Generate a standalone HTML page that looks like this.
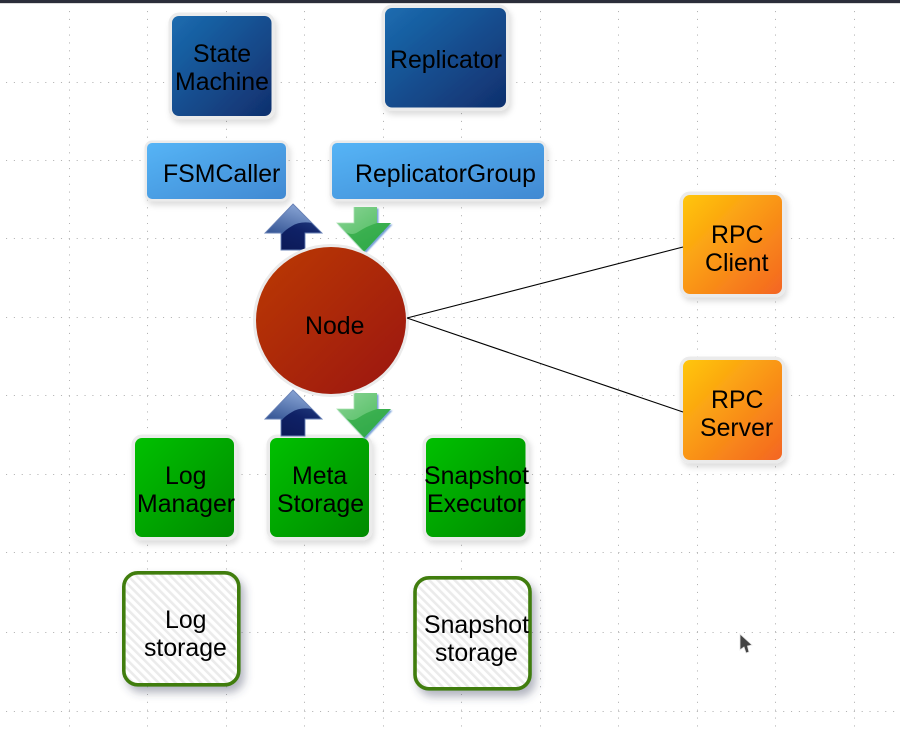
<!DOCTYPE html>
<html>
<head>
<meta charset="utf-8">
<style>
html,body{margin:0;padding:0;background:#fff;width:900px;height:731px;overflow:hidden}
svg{display:block}
text{font-family:"Liberation Sans",sans-serif;font-size:24.85px;fill:#000}
.g line{stroke:#b4b4b4;stroke-width:1;stroke-dasharray:1.1 6.75}
</style>
</head>
<body>
<svg width="900" height="731" viewBox="0 0 900 731" xmlns="http://www.w3.org/2000/svg">
<defs>
<linearGradient id="db" x1="0" y1="0" x2="1" y2="1"><stop offset="0" stop-color="#1b6cb0"/><stop offset="1" stop-color="#102f6d"/></linearGradient>
<linearGradient id="lb" x1="0" y1="0" x2="1" y2="1"><stop offset="0" stop-color="#55b4f6"/><stop offset="1" stop-color="#4189d2"/></linearGradient>
<linearGradient id="or" x1="0" y1="0" x2="1" y2="1"><stop offset="0" stop-color="#ffc60a"/><stop offset="1" stop-color="#f46522"/></linearGradient>
<linearGradient id="gr" x1="0" y1="0" x2="1" y2="1"><stop offset="0" stop-color="#00c000"/><stop offset="1" stop-color="#008a00"/></linearGradient>
<linearGradient id="re" x1="0" y1="0" x2="1" y2="1"><stop offset="0" stop-color="#bb3a02"/><stop offset="1" stop-color="#9b1511"/></linearGradient>
<linearGradient id="ul" x1="0.7" y1="0" x2="0.2" y2="1"><stop offset="0" stop-color="#8aa6d6"/><stop offset="1" stop-color="#375796"/></linearGradient>
<linearGradient id="ub" x1="0.8" y1="0" x2="0.3" y2="1"><stop offset="0" stop-color="#2d4d8e"/><stop offset="0.55" stop-color="#0f2166"/><stop offset="1" stop-color="#0c1a58"/></linearGradient>
<linearGradient id="dl" x1="0" y1="0" x2="1" y2="1"><stop offset="0" stop-color="#8ad495"/><stop offset="1" stop-color="#58c068"/></linearGradient>
<linearGradient id="db2" x1="0.2" y1="0" x2="0.8" y2="1"><stop offset="0" stop-color="#46b858"/><stop offset="1" stop-color="#2fa848"/></linearGradient>
<pattern id="st" width="6" height="6" patternUnits="userSpaceOnUse" patternTransform="rotate(-45)"><rect width="6" height="6" fill="#fff"/><rect width="2.600" height="6" fill="#ebebeb"/></pattern>
<filter id="sh" x="-20%" y="-20%" width="150%" height="150%"><feDropShadow dx="2" dy="4" stdDeviation="3" flood-color="#000" flood-opacity="0.13"/></filter>
<filter id="sh2" x="-20%" y="-20%" width="150%" height="150%"><feDropShadow dx="4" dy="6" stdDeviation="4.500" flood-color="#3f4560" flood-opacity="0.4"/></filter>
<filter id="sh3" x="-20%" y="-20%" width="150%" height="150%"><feDropShadow dx="1.500" dy="1.500" stdDeviation="0.7" flood-color="#3f7ac8" flood-opacity="0.7"/></filter>
<path id="up" d="M293 204 L322 233 L305 233 L305 250 L281 250 L281 233 L265 233 Z"/>
<path id="dn" d="M354 207 L377 207 L377 223 L391 223 L364 252 L337 223 L354 223 Z"/>
<clipPath id="cu"><use href="#up"/></clipPath>
<clipPath id="cd"><use href="#dn"/></clipPath>
<g id="uparrow">
<use href="#up" fill="url(#ub)"/>
<path d="M293 204 L312 223 Q300 221 292 226 Q285 230 282 234 L265 233 Z" fill="url(#ul)" clip-path="url(#cu)"/>
<use href="#up" fill="none" stroke="#6780b5" stroke-width="0.9"/>
</g>
<g id="dnarrow">
<g filter="url(#sh3)"><use href="#dn" fill="url(#db2)"/></g>
<path d="M354 207 L377 207 L377 223 Q367 226 358 232 Q352 236 346 232 L337 223 L354 223 Z" fill="url(#dl)" clip-path="url(#cd)"/>
<path d="M354 207 L354 223 L337 223 L364 252" fill="none" stroke="#a6e0ae" stroke-width="0.8"/>
</g>
</defs>
<rect width="900" height="731" fill="#fff"/>
<rect width="900" height="3" fill="#2b2e3a"/>
<rect y="3" width="900" height="1" fill="#dcdcdc"/>

<g class="g">
<line x1="0" y1="82.5" x2="900" y2="82.5" stroke-dashoffset="-6"/>
<line x1="0" y1="160.5" x2="900" y2="160.5" stroke-dashoffset="-6"/>
<line x1="0" y1="238.5" x2="900" y2="238.5" stroke-dashoffset="-6"/>
<line x1="0" y1="317.5" x2="900" y2="317.5" stroke-dashoffset="-6"/>
<line x1="0" y1="395.5" x2="900" y2="395.5" stroke-dashoffset="-6"/>
<line x1="0" y1="474.5" x2="900" y2="474.5" stroke-dashoffset="-6"/>
<line x1="0" y1="552.5" x2="900" y2="552.5" stroke-dashoffset="-6"/>
<line x1="0" y1="632.5" x2="900" y2="632.5" stroke-dashoffset="-6"/>
<line x1="0" y1="711.5" x2="900" y2="711.5" stroke-dashoffset="-6"/>
<line x1="69.5" y1="11" x2="69.5" y2="731"/>
<line x1="147.5" y1="11" x2="147.5" y2="731"/>
<line x1="226.5" y1="11" x2="226.5" y2="731"/>
<line x1="304.5" y1="11" x2="304.5" y2="731"/>
<line x1="383.5" y1="11" x2="383.5" y2="731"/>
<line x1="461.5" y1="11" x2="461.5" y2="731"/>
<line x1="540.5" y1="11" x2="540.5" y2="731"/>
<line x1="618.5" y1="11" x2="618.5" y2="731"/>
<line x1="697.5" y1="11" x2="697.5" y2="731"/>
<line x1="775.5" y1="11" x2="775.5" y2="731"/>
<line x1="854.5" y1="11" x2="854.5" y2="731"/>
</g>

<!-- dark blue -->
<rect x="172" y="16" width="99.500" height="100" rx="7" fill="url(#db)" stroke="#ebebeb" stroke-width="7" paint-order="stroke" filter="url(#sh)"/>
<rect x="385" y="8" width="121" height="99.500" rx="7" fill="url(#db)" stroke="#ebebeb" stroke-width="7" paint-order="stroke" filter="url(#sh)"/>
<!-- light blue -->
<rect x="147" y="143" width="139" height="56" rx="5" fill="url(#lb)" stroke="#ebebeb" stroke-width="5" paint-order="stroke" filter="url(#sh)"/>
<rect x="332" y="143" width="212" height="56" rx="5" fill="url(#lb)" stroke="#ebebeb" stroke-width="5" paint-order="stroke" filter="url(#sh)"/>
<!-- orange -->
<rect x="683" y="195" width="99" height="99" rx="7" fill="url(#or)" stroke="#ebebeb" stroke-width="7" paint-order="stroke" filter="url(#sh)"/>
<rect x="683" y="360" width="99" height="100" rx="7" fill="url(#or)" stroke="#ebebeb" stroke-width="7" paint-order="stroke" filter="url(#sh)"/>
<!-- green -->
<rect x="135" y="438" width="99" height="99" rx="7" fill="url(#gr)" stroke="#ebebeb" stroke-width="7" paint-order="stroke" filter="url(#sh)"/>
<rect x="270" y="438" width="99" height="99" rx="7" fill="url(#gr)" stroke="#ebebeb" stroke-width="7" paint-order="stroke" filter="url(#sh)"/>
<rect x="426" y="438" width="99.500" height="99" rx="7" fill="url(#gr)" stroke="#ebebeb" stroke-width="7" paint-order="stroke" filter="url(#sh)"/>
<!-- storage -->
<rect x="123.800" y="572.800" width="115" height="112" rx="14" fill="url(#st)" stroke="#3f7d0a" stroke-width="3.600" filter="url(#sh2)"/>
<rect x="415" y="577.800" width="115" height="111" rx="14" fill="url(#st)" stroke="#3f7d0a" stroke-width="3.600" filter="url(#sh2)"/>

<!-- arrows -->
<use href="#uparrow"/>
<use href="#uparrow" y="186"/>
<use href="#dnarrow"/>
<use href="#dnarrow" y="186"/>

<!-- node -->
<ellipse cx="331" cy="320.500" rx="75" ry="73.500" fill="url(#re)" stroke="#ebebeb" stroke-width="6" paint-order="stroke"/>

<!-- connectors -->
<line x1="407" y1="318" x2="683" y2="247" stroke="#000" stroke-width="1.100"/>
<line x1="407" y1="318" x2="683" y2="412" stroke="#000" stroke-width="1.100"/>

<!-- cursor -->
<path d="M740 634 L740 650 L744 647 L746 653 L749 652 L747.500 646 L752 645 Z" fill="#444" stroke="#e4e4e4" stroke-width="0.8"/>

<!-- labels -->
<text x="193" y="62">State</text>
<text x="175" y="90">Machine</text>
<text x="390" y="68">Replicator</text>
<text x="163" y="182">FSMCaller</text>
<text x="355" y="182">ReplicatorGroup</text>
<text x="711" y="243">RPC</text>
<text x="705" y="271">Client</text>
<text x="711" y="408">RPC</text>
<text x="700" y="436">Server</text>
<text x="305" y="334">Node</text>
<text x="165" y="484">Log</text>
<text x="137" y="512">Manager</text>
<text x="292" y="484">Meta</text>
<text x="277" y="512">Storage</text>
<text x="424" y="484">Snapshot</text>
<text x="427" y="512">Executor</text>
<text x="165" y="628">Log</text>
<text x="144" y="656">storage</text>
<text x="424" y="633">Snapshot</text>
<text x="435" y="661">storage</text>
</svg>
</body>
</html>
